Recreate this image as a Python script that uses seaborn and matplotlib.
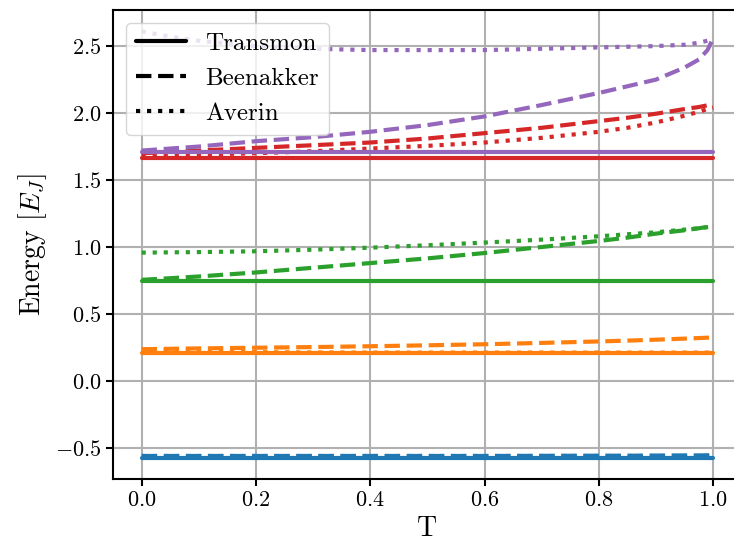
import matplotlib
matplotlib.use("Agg")
import matplotlib.pyplot as plt
import pandas as pd
import seaborn as sns
from matplotlib.lines import Line2D

# ---------------- data ----------------
T = [0.0, 0.05, 0.1, 0.2, 0.3, 0.4, 0.5, 0.6, 0.7, 0.8, 0.85, 0.9, 0.95, 0.975, 0.99, 1.0]
T_transmon = [0.0, 1.0]

levels = ["0", "1", "2", "3", "4"]
level_colors = ["#1f77b4", "#ff7f0e", "#2ca02c", "#d62728", "#9467bd"]

transmon_levels = [-0.573, 0.212, 0.748, 1.666, 1.710]

beenakker_0 = [-0.560, -0.560, -0.560, -0.560, -0.560, -0.560, -0.560, -0.560, -0.559, -0.558, -0.558, -0.557, -0.556, -0.556, -0.555, -0.555]
beenakker_1 = [0.237, 0.240, 0.243, 0.248, 0.253, 0.259, 0.266, 0.274, 0.284, 0.295, 0.301, 0.308, 0.316, 0.320, 0.323, 0.325]
beenakker_2 = [0.755, 0.767, 0.780, 0.810, 0.845, 0.880, 0.915, 0.955, 1.000, 1.045, 1.070, 1.100, 1.125, 1.140, 1.150, 1.155]
beenakker_3 = [1.700, 1.710, 1.720, 1.740, 1.760, 1.780, 1.810, 1.850, 1.890, 1.940, 1.965, 1.995, 2.030, 2.045, 2.058, 2.065]
beenakker_4 = [1.720, 1.735, 1.750, 1.790, 1.820, 1.860, 1.910, 1.975, 2.060, 2.150, 2.200, 2.250, 2.340, 2.400, 2.470, 2.560]

averin_0 = [-0.560, -0.560, -0.560, -0.560, -0.560, -0.560, -0.560, -0.560, -0.560, -0.560, -0.560, -0.560, -0.560, -0.560, -0.560, -0.560]
averin_1 = [0.235, 0.230, 0.225, 0.215, 0.213, 0.212, 0.212, 0.212, 0.212, 0.212, 0.212, 0.212, 0.212, 0.212, 0.212, 0.212]
averin_2 = [0.958, 0.960, 0.962, 0.968, 0.980, 0.995, 1.013, 1.033, 1.055, 1.080, 1.095, 1.110, 1.130, 1.140, 1.148, 1.150]
averin_3 = [1.680, 1.685, 1.690, 1.700, 1.715, 1.735, 1.755, 1.780, 1.815, 1.860, 1.890, 1.930, 1.980, 2.010, 2.030, 2.040]
averin_4 = [2.610, 2.570, 2.540, 2.500, 2.480, 2.470, 2.470, 2.470, 2.480, 2.490, 2.495, 2.500, 2.510, 2.525, 2.540, 2.560]

models = ["Transmon", "Beenakker", "Averin"]
x_label = "T"
y_label = r"Energy $[E_J]$"

# ---------------- build long table ----------------
beenakker = [beenakker_0, beenakker_1, beenakker_2, beenakker_3, beenakker_4]
averin = [averin_0, averin_1, averin_2, averin_3, averin_4]
rows = []
for i, lv in enumerate(levels):
    for t in T_transmon:
        rows.append({"T": t, "E": transmon_levels[i], "level": lv, "model": "Transmon"})
    for t, e in zip(T, beenakker[i]):
        rows.append({"T": t, "E": e, "level": lv, "model": "Beenakker"})
    for t, e in zip(T, averin[i]):
        rows.append({"T": t, "E": e, "level": lv, "model": "Averin"})
df = pd.DataFrame(rows)

# ---------------- style ----------------
sns.set_style("ticks")
plt.rcParams.update({
    "font.family": "serif",
    "font.serif": ["cmr10"],
    "mathtext.fontset": "cm",
    "axes.formatter.use_mathtext": True,
    "axes.edgecolor": "black",
    "axes.labelcolor": "black",
    "text.color": "black",
    "xtick.color": "black",
    "ytick.color": "black",
    "axes.linewidth": 1.5,
})

fig = plt.figure(figsize=(7.34, 5.57), dpi=100)
ax = fig.add_axes([0.154, 0.140, 0.8566, 0.842])

dash_map = {"Transmon": "", "Beenakker": (3.7, 1.6), "Averin": (1, 1.65)}
sns.lineplot(data=df, x="T", y="E", hue="level", style="model",
             hue_order=levels, style_order=models,
             palette=dict(zip(levels, level_colors)), dashes=dash_map,
             estimator=None, sort=True, lw=3, legend=False, ax=ax)

ax.grid(True, color="#b0b0b0", lw=1.5)
ax.set_axisbelow(True)
ax.set_xticks([0.0, 0.2, 0.4, 0.6, 0.8, 1.0])
ax.set_yticks([-0.5, 0.0, 0.5, 1.0, 1.5, 2.0, 2.5])
ax.tick_params(labelsize=16, width=1.5, length=5)
ax.set_xlabel(x_label, fontsize=20)
ax.set_ylabel(y_label, fontsize=20)

handles = [Line2D([], [], color="black", lw=3, ls="-"),
           Line2D([], [], color="black", lw=3, ls="--"),
           Line2D([], [], color="black", lw=3, ls=":")]
ax.legend(handles, models, loc="upper left", fontsize=18)

fig.savefig("out.png", dpi=100)
